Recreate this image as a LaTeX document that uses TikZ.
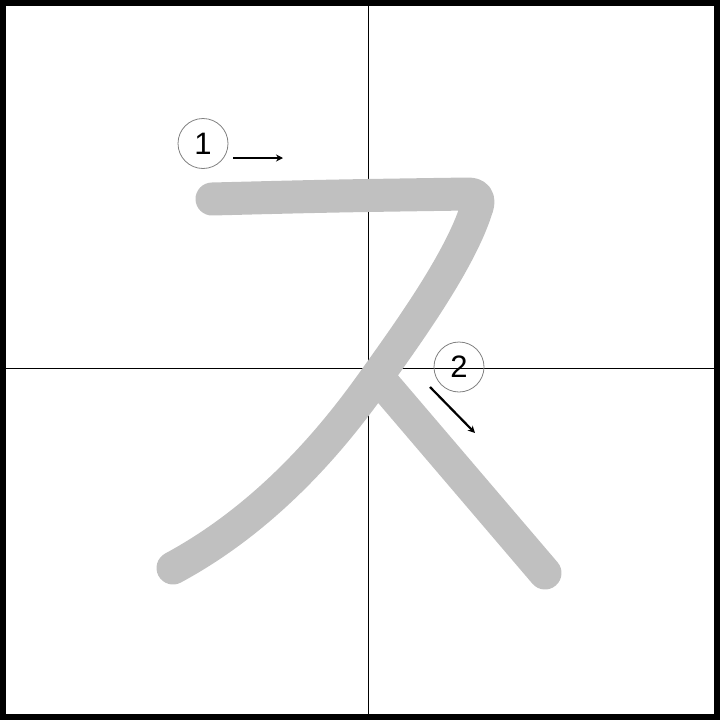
\documentclass[tikz,border=0pt]{standalone}
\usepackage{fontspec}
\setmainfont{Liberation Sans}
\usetikzlibrary{arrows.meta}
\definecolor{strokegray}{RGB}{192,192,192}
\tikzset{
  kanastroke/.style={line width=33pt,strokegray,line cap=round,line join=round},
  gridline/.style={line width=1pt,black},
  numcircle/.style={circle,draw=gray,line width=0.8pt,minimum size=50pt,inner sep=0pt,font=\fontsize{31}{37}\selectfont},
  dirarrow/.style={line width=2.2pt,-{Stealth[length=7pt,width=7pt]}}
}

\begin{document}
\begin{tikzpicture}[x=1pt,y=-1pt]
\useasboundingbox (0,0) rectangle (720,720);

\draw[line width=6pt] (3,3) rectangle (717,717);
\draw[gridline] (368,6) -- (368,714);
\draw[gridline] (6,368) -- (714,368);

% strokes
\draw[kanastroke]
(212,199) .. controls (330,196) .. (468,194) .. controls (478,194) and (480,200) .. (476,210)
.. controls (460,260) and (410,330) .. (383,368)
.. controls (360,400) and (290,505) .. (173,568)
;
\draw[kanastroke] (382,382) -- (545,573);

% numbers and directions
\node[numcircle] (num1) at (203,143.5) {1};
\node[numcircle] (num2) at (459,367) {2};
\coordinate (arrow1start) at (233,158);
\coordinate (arrow1end) at (283,158);
\coordinate (arrow2start) at (430,387);
\coordinate (arrow2end) at (475,433);
\draw[dirarrow] (arrow1start) -- (arrow1end);
\draw[dirarrow] (arrow2start) -- (arrow2end);
\end{tikzpicture}
\end{document}
